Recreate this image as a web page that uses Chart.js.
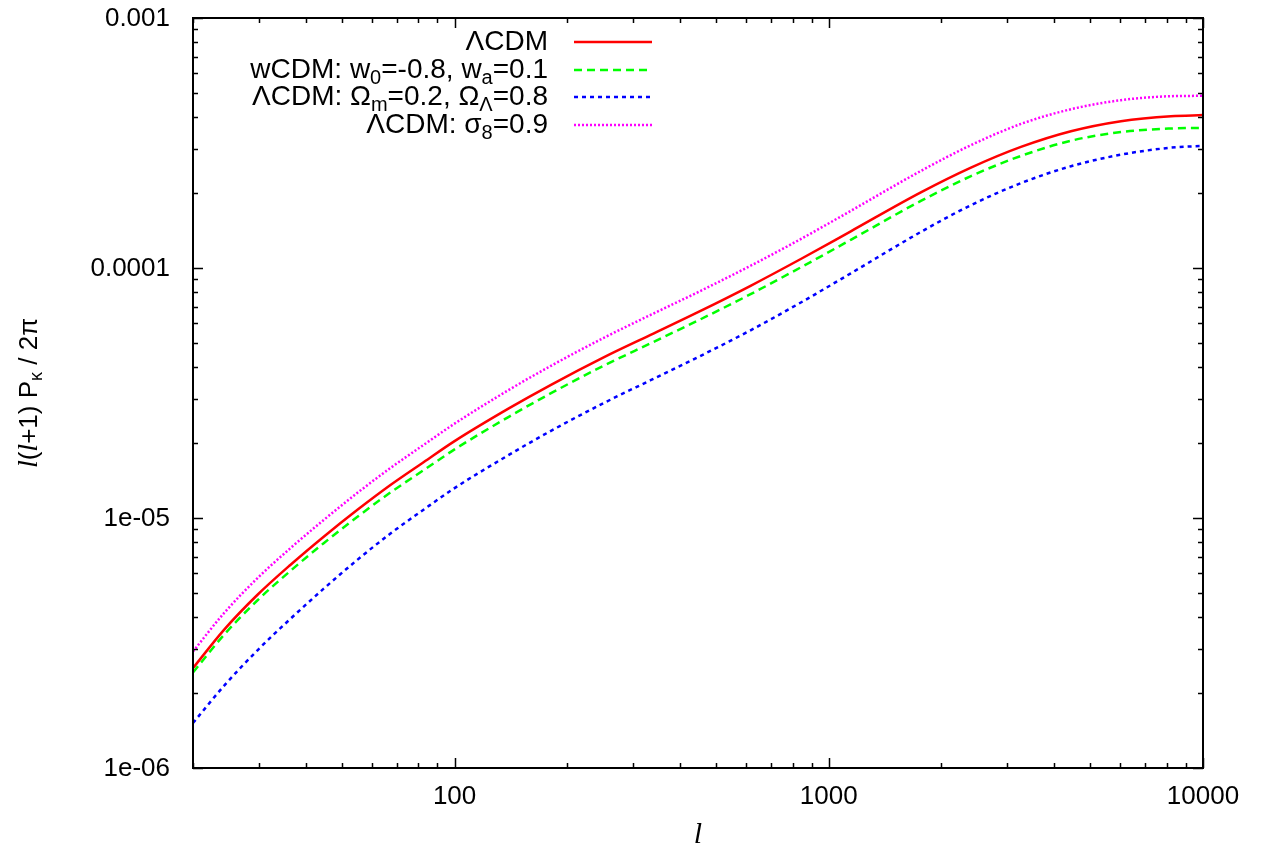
<!DOCTYPE html>
<html><head><meta charset="utf-8">
<script src="https://cdn.jsdelivr.net/npm/chart.js@4"></script>
<style>html,body{margin:0;padding:0;background:#fff}#wrap{width:1262px;height:855px;position:relative}</style>
</head><body><div id="wrap"><canvas id="c"></canvas></div>
<script>
// ---- data ----
const ells   = [20,24.2,29.7,36.4,44.7,54.9,67.4,82.8,100,140,181,251,334,450,618,849,1145,1762,2398,3262,4437,6036,8210,10000];
const lcdm   = [2.51e-6,3.57e-6,4.92e-6,6.49e-6,8.42e-6,1.076e-5,1.355e-5,1.675e-5,2.03e-5,2.75e-5,3.41e-5,4.40e-5,5.40e-5,6.69e-5,8.49e-5,1.094e-4,1.402e-4,2.006e-4,2.52e-4,3.05e-4,3.524e-4,3.866e-4,4.048e-4,4.088e-4];
const wcdm   = [2.41e-6,3.409e-6,4.677e-6,6.141e-6,7.931e-6,1.009e-5,1.265e-5,1.556e-5,1.881e-5,2.545e-5,3.156e-5,4.073e-5,4.998e-5,6.192e-5,7.858e-5,1.013e-4,1.296e-4,1.855e-4,2.330e-4,2.807e-4,3.229e-4,3.500e-4,3.614e-4,3.637e-4];
const lcdmOm = [1.513e-6,2.131e-6,2.951e-6,3.947e-6,5.215e-6,6.790e-6,8.668e-6,1.082e-5,1.317e-5,1.792e-5,2.232e-5,2.888e-5,3.558e-5,4.420e-5,5.635e-5,7.329e-5,9.522e-5,1.394e-4,1.784e-4,2.185e-4,2.553e-4,2.840e-4,3.029e-4,3.081e-4];
const lcdmS8 = [2.924e-6,4.163e-6,5.737e-6,7.568e-6,9.819e-6,1.258e-5,1.585e-5,1.964e-5,2.385e-5,3.261e-5,4.062e-5,5.265e-5,6.492e-5,8.043e-5,1.021e-4,1.315e-4,1.693e-4,2.445e-4,3.100e-4,3.770e-4,4.316e-4,4.691e-4,4.867e-4,4.883e-4];
const xTicks = [100,1000,10000];
const xTickLabels = ['100','1000','10000'];
const yTicks = [1e-6,1e-5,1e-4,1e-3];
const yTickLabels = ['1e-06','1e-05','0.0001','0.001'];
const xRange = [20,10000];
const yRange = [1e-6,1e-3];

// legend entries: segments [text, kind] kind: n=normal, s=subscript
const legendEntries = [
  [['ΛCDM','n']],
  [['wCDM: w','n'],['0','s'],['=-0.8, w','n'],['a','s'],['=0.1','n']],
  [['ΛCDM: Ω','n'],['m','s'],['=0.2, Ω','n'],['Λ','s'],['=0.8','n']],
  [['ΛCDM: σ','n'],['8','s'],['=0.9','n']]
];
const colors = ['#ff0000','#00ff00','#0000ff','#ff00ff'];
const dashes = [[],[8,5],[4,4],[2,2]];
const names = ['ΛCDM','wCDM: w0=-0.8, wa=0.1','ΛCDM: Ωm=0.2, ΩΛ=0.8','ΛCDM: σ8=0.9'];
const series = [lcdm,wcdm,lcdmOm,lcdmS8];

const SANS = '"Liberation Sans", Arial, sans-serif';
const SERIF = '"Liberation Serif", "Times New Roman", serif';

function drawSegs(ctx, segs, xAnchor, yMid, size, subSize, subDy, align){
  const fonts = segs.map(([t,k,fam])=> fam || ((k==='s'?subSize:size) + 'px ' + SANS));
  let w = 0;
  segs.forEach(([t],i)=>{ ctx.font = fonts[i]; w += ctx.measureText(t).width; });
  let x = align==='right' ? xAnchor - w : (align==='center' ? xAnchor - w/2 : xAnchor);
  ctx.textBaseline = 'middle';
  ctx.textAlign = 'left';
  segs.forEach(([t,k],i)=>{
    ctx.font = fonts[i];
    ctx.fillText(t, x, yMid + (k==='s'?subDy:0));
    x += ctx.measureText(t).width;
  });
}

const framePlugin = {
  id:'frame',
  afterDraw(chart){
    const ctx = chart.ctx, a = chart.chartArea;
    const xs = chart.scales.x, ys = chart.scales.y;
    ctx.save();
    ctx.fillStyle = '#000';
    ctx.strokeStyle = '#000';
    // ticks (mirrored, inward)
    ctx.lineWidth = 1.5;
    ctx.beginPath();
    for (let d=10; d<=10000; d*=10){
      for (let m=1; m<=9; m++){
        const v = d*m;
        if (v < xRange[0] || v > xRange[1]) continue;
        const px = Math.round(xs.getPixelForValue(v))+0.5;
        const len = m===1?10:5;
        ctx.moveTo(px,a.bottom); ctx.lineTo(px,a.bottom-len);
        ctx.moveTo(px,a.top); ctx.lineTo(px,a.top+len);
      }
    }
    for (let d=1e-6; d<=1.01e-3; d*=10){
      for (let m=1; m<=9; m++){
        const v = d*m;
        if (v < yRange[0]*0.999 || v > yRange[1]*1.001) continue;
        const py = Math.round(ys.getPixelForValue(v))+0.5;
        const len = m===1?10:5;
        ctx.moveTo(a.left,py); ctx.lineTo(a.left+len,py);
        ctx.moveTo(a.right,py); ctx.lineTo(a.right-len,py);
      }
    }
    ctx.stroke();
    // border
    ctx.lineWidth = 2;
    ctx.strokeRect(a.left, a.top, a.right-a.left, a.bottom-a.top);
    // tick labels
    ctx.font = '26px ' + SANS;
    ctx.textAlign = 'center'; ctx.textBaseline = 'middle';
    xTicks.forEach((v,i)=>{ ctx.fillText(xTickLabels[i], xs.getPixelForValue(v), a.bottom + 29); });
    ctx.textAlign = 'right';
    yTicks.forEach((v,i)=>{ ctx.fillText(yTickLabels[i], a.left - 23, ys.getPixelForValue(v)+1); });
    // axis titles
    ctx.textAlign = 'center';
    ctx.font = 'italic 30px ' + SERIF;
    ctx.fillText('l', (a.left+a.right)/2, a.bottom + 67);
    ctx.save();
    ctx.translate(30, (a.top+a.bottom)/2);
    ctx.rotate(-Math.PI/2);
    drawSegs(ctx, [
      ['l','n','italic 28px '+SERIF],['(','n'],['l','n','italic 28px '+SERIF],['+1) P','n'],['κ','s'],[' / 2π','n']
    ], 0, 0, 26, 18, 7, 'center');
    ctx.restore();
    // legend
    const rowY = [42,70,97,125];
    legendEntries.forEach((segs,i)=>{
      ctx.fillStyle = '#000';
      drawSegs(ctx, segs, 548, rowY[i], 28, 20, 8, 'right');
      ctx.strokeStyle = colors[i];
      ctx.lineWidth = 2.5;
      ctx.setLineDash(dashes[i]);
      ctx.beginPath(); ctx.moveTo(574,rowY[i]); ctx.lineTo(652,rowY[i]); ctx.stroke();
      ctx.setLineDash([]);
    });
    ctx.restore();
  }
};

new Chart(document.getElementById('c'), {
  type:'line',
  data:{
    datasets: series.map((s,i)=>({
      label: names[i],
      data: ells.map((l,j)=>({x:l, y:s[j]})),
      borderColor: colors[i],
      borderWidth: 2.5,
      borderDash: dashes[i],
      pointRadius: 0,
      fill:false,
      cubicInterpolationMode:'monotone'
    }))
  },
  options:{
    responsive:true, maintainAspectRatio:false, animation:false,
    layout:{padding:{left:193,right:59,top:18,bottom:87}},
    plugins:{legend:{display:false},tooltip:{enabled:false},title:{display:false}},
    scales:{
      x:{type:'logarithmic',min:xRange[0],max:xRange[1],display:false},
      y:{type:'logarithmic',min:yRange[0],max:yRange[1],display:false}
    }
  },
  plugins:[framePlugin]
});
</script></body></html>
